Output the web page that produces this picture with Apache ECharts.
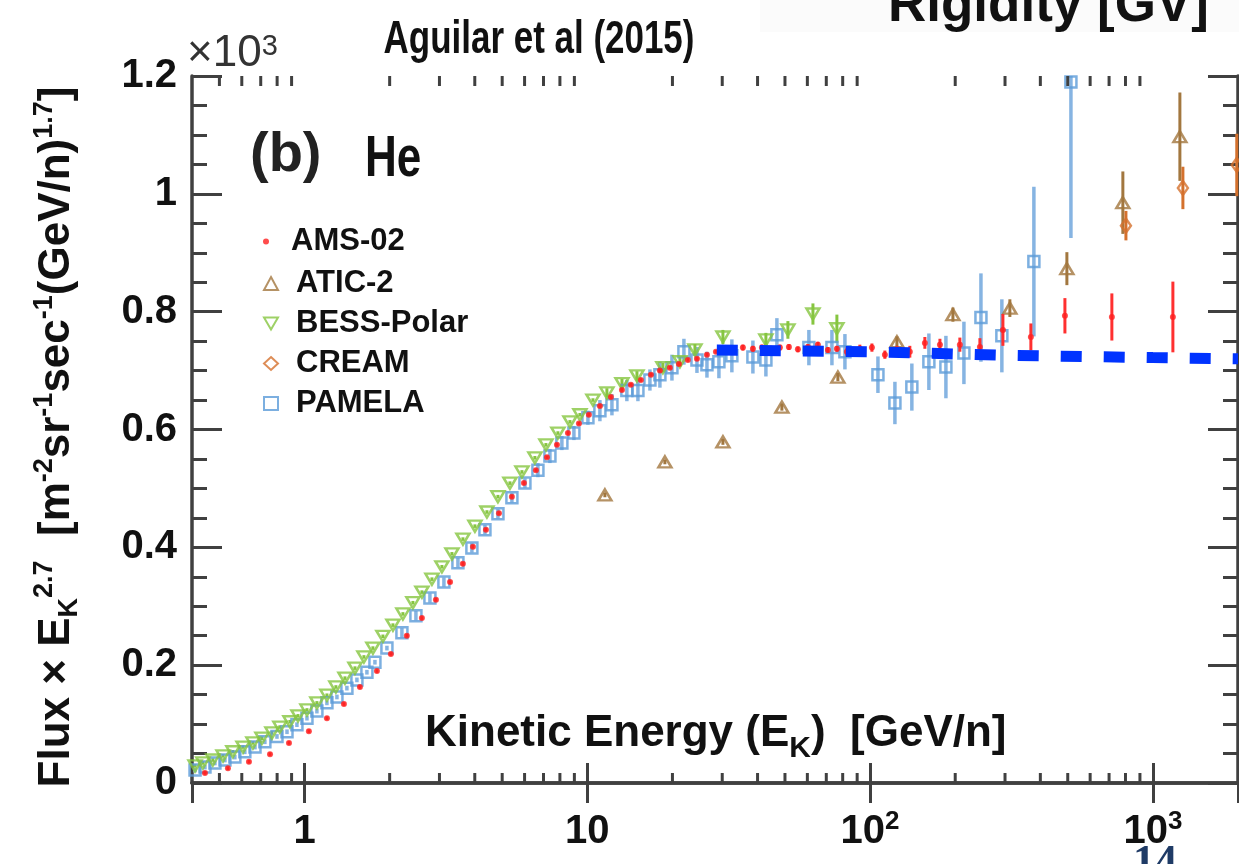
<!DOCTYPE html>
<html><head><meta charset="utf-8">
<script src="https://cdn.jsdelivr.net/npm/echarts@6/dist/echarts.min.js"></script>
<style>html,body{margin:0;padding:0;background:#fff}#c{width:1239px;height:864px}</style>
</head><body><div id="c"></div>
<script>
// ---------------- data ----------------
const xTickValues = [1, 10, 100, 1000];
const xTickText = ['1', '10', '10{sup|2}', '10{sup|3}'];
const xMinorTicks = [0.5,0.6,0.7,0.8,0.9, 2,3,4,5,6,7,8,9, 20,30,40,50,60,70,80,90, 200,300,400,500,600,700,800,900];

const amsE = [0.4445,0.536,0.636,0.755,0.881,1.036,1.20,1.378,1.57,1.803,2.02,2.30,2.60,2.915,3.27,3.63,3.94,4.38,4.87,5.41,5.97,6.58,7.20,7.81,8.54,9.34,10.13,11.08,12.12,13.26,14.26,15.47,16.79,18.06,19.59,21.09,22.68,24.42,26.49,28.50,30.66,32.99,35.50,38.51,41.44,44.59,47.98,51.63,55.55,60.26,65.38,70.93,76.31,82.79,92.0,101.5,112.8,124.4,138.2,156.2,176.6,207.7,244.5,294.9,370.3,488.6,716.1,1177];
const amsFlux = [0.017,0.025,0.036,0.049,0.068,0.088,0.110,0.134,0.163,0.190,0.219,0.250,0.280,0.311,0.341,0.372,0.401,0.430,0.458,0.486,0.509,0.531,0.553,0.574,0.594,0.610,0.625,0.640,0.655,0.667,0.676,0.684,0.693,0.700,0.705,0.711,0.718,0.720,0.727,0.732,0.733,0.735,0.739,0.737,0.739,0.737,0.739,0.740,0.736,0.740,0.744,0.735,0.737,0.732,0.737,0.739,0.727,0.735,0.732,0.747,0.744,0.744,0.740,0.769,0.757,0.793,0.791,0.791];
const amsErr = [0.003,0.003,0.003,0.003,0.003,0.003,0.003,0.003,0.003,0.003,0.003,0.003,0.003,0.003,0.003,0.003,0.003,0.003,0.003,0.003,0.003,0.003,0.003,0.003,0.003,0.003,0.003,0.003,0.003,0.003,0.003,0.003,0.003,0.003,0.003,0.003,0.003,0.003,0.003,0.003,0.005,0.005,0.005,0.005,0.005,0.005,0.005,0.005,0.005,0.005,0.005,0.005,0.005,0.007,0.007,0.007,0.007,0.007,0.010,0.010,0.010,0.012,0.015,0.027,0.023,0.030,0.040,0.060];

const bessE = [0.410,0.437,0.474,0.515,0.558,0.606,0.657,0.707,0.767,0.818,0.888,0.948,1.020,1.106,1.200,1.291,1.390,1.508,1.622,1.745,1.893,2.054,2.228,2.417,2.601,2.822,3.061,3.321,3.632,4.005,4.416,4.830,5.326,5.873,6.526,7.139,7.870,8.681,9.415,10.47,11.73,13.26,14.98,18.51,21.26,24.02,30.17,42.81,51.21,62.79,76.31];
const bessFlux = [0.029,0.034,0.039,0.046,0.053,0.061,0.068,0.076,0.085,0.095,0.104,0.114,0.124,0.136,0.149,0.163,0.178,0.195,0.214,0.229,0.249,0.268,0.287,0.306,0.324,0.346,0.367,0.389,0.414,0.436,0.460,0.486,0.509,0.528,0.552,0.574,0.594,0.613,0.625,0.650,0.662,0.678,0.691,0.705,0.715,0.735,0.757,0.752,0.769,0.796,0.771];
const bessErr = [0.003,0.003,0.003,0.003,0.003,0.003,0.003,0.003,0.003,0.003,0.003,0.003,0.003,0.003,0.003,0.003,0.003,0.003,0.003,0.003,0.003,0.003,0.003,0.003,0.003,0.003,0.003,0.003,0.003,0.003,0.003,0.003,0.003,0.003,0.003,0.003,0.003,0.003,0.003,0.003,0.008,0.008,0.008,0.008,0.008,0.010,0.012,0.012,0.015,0.018,0.024];

const pamelaE = [0.410,0.4445,0.482,0.523,0.567,0.615,0.668,0.724,0.799,0.867,0.940,1.020,1.106,1.200,1.302,1.412,1.532,1.662,1.774,1.956,2.210,2.477,2.776,3.111,3.487,3.907,4.345,4.830,5.412,6.017,6.689,7.376,8.130,8.967,10.05,11.08,12.22,13.80,15.10,16.65,18.06,19.92,21.96,24.42,26.49,29.20,32.45,38.51,42.81,46.82,60.75,73.29,81.47,106.6,122.4,140.5,161.4,185.4,214.7,246.6,292.4,379.5,513.1];
const pamelaFlux = [0.022,0.027,0.034,0.039,0.044,0.053,0.061,0.070,0.079,0.087,0.099,0.110,0.122,0.136,0.146,0.161,0.175,0.188,0.205,0.229,0.255,0.284,0.314,0.341,0.374,0.399,0.430,0.457,0.484,0.509,0.531,0.555,0.577,0.594,0.620,0.632,0.642,0.666,0.666,0.684,0.693,0.705,0.732,0.718,0.710,0.715,0.725,0.723,0.718,0.761,0.739,0.739,0.732,0.693,0.645,0.672,0.715,0.706,0.730,0.790,0.759,0.885,1.190];
const pamelaErr = [0.004,0.004,0.004,0.004,0.004,0.004,0.004,0.004,0.004,0.004,0.004,0.004,0.004,0.004,0.004,0.004,0.004,0.004,0.004,0.004,0.008,0.008,0.008,0.008,0.008,0.008,0.008,0.008,0.008,0.008,0.012,0.012,0.012,0.012,0.012,0.018,0.018,0.018,0.018,0.018,0.022,0.022,0.022,0.022,0.022,0.028,0.028,0.028,0.028,0.028,0.030,0.030,0.030,0.031,0.036,0.040,0.048,0.053,0.053,0.075,0.062,0.127,0.265];

const aticE = [11.54,18.81,30.17,48.76,76.93,124.4,196.3,312.1,496.5,783.2,1246];
const aticFlux = [0.489,0.545,0.579,0.638,0.689,0.749,0.795,0.806,0.873,0.985,1.097];
const aticErr = [0.004,0.004,0.005,0.006,0.007,0.009,0.012,0.015,0.028,0.053,0.075];

const creamE = [803,1277,1980];
const creamFlux = [0.946,1.010,1.049];
const creamErr = [0.025,0.036,0.053];

const modelE = [28.7,100,300,1000,2000];
const modelFlux = [0.735,0.732,0.726,0.722,0.720];

// ---------------- styling ----------------
const C = {ams:'#ff1f1f', atic:'#a2773f', bess:'#86c540', cream:'#d4712d', pamela:'#5b9bd8'};
const SANS = "'Liberation Sans', Arial, Helvetica, sans-serif";
const AX = '#404040';
const DOWN_TRI = 'path://M0,0L12,0L6,10.4Z';

function zip3(a, b, c) { return a.map((v, i) => [v, b[i], c[i]]); }
function zip2(a, b) { return a.map((v, i) => [v, b[i]]); }

function errRender(color, width) {
  return function (params, api) {
    const x = api.value(0), y = api.value(1), e = api.value(2);
    const lo = api.coord([x, y - e]);
    const hi = api.coord([x, y + e]);
    const cs = params.coordSys;
    const top = Math.max(hi[1], cs.y);
    const bot = Math.min(lo[1], cs.y + cs.height);
    return {type: 'line', shape: {x1: lo[0], y1: bot, x2: lo[0], y2: top},
            style: {stroke: color, lineWidth: width}};
  };
}
function minorTickRender(params, api) {
  const x = api.coord([api.value(0), api.value(1)])[0];
  const cs = params.coordSys;
  const st = {stroke: AX, lineWidth: 3};
  return {type: 'group', children: [
    {type: 'line', shape: {x1: x, y1: cs.y + cs.height, x2: x, y2: cs.y + cs.height - 10}, style: st},
    {type: 'line', shape: {x1: x, y1: cs.y, x2: x, y2: cs.y + 10}, style: st}
  ]};
}

const xAxisBase = {
  type: 'log', logBase: 10, min: 0.4, max: 2000,
  axisLine: {show: true, lineStyle: {color: AX, width: 3.5}},
  axisTick: {show: true, inside: true, length: 20, lineStyle: {color: AX, width: 3}},
  splitLine: {show: false}, minorTick: {show: false}
};
const yAxisBase = {
  type: 'value', min: 0, max: 1.2, interval: 0.2,
  axisLine: {show: true, lineStyle: {color: AX, width: 3.5}},
  axisTick: {show: true, inside: true, length: 30, lineStyle: {color: AX, width: 3}},
  minorTick: {show: true, splitNumber: 4, length: 15, lineStyle: {color: AX, width: 3}},
  splitLine: {show: false}
};
const legendText = {fontSize: 31, fontWeight: 'bold', color: '#111', fontFamily: SANS, lineHeight: 31, padding: [0, 0, 0, 13]};

const chart = echarts.init(document.getElementById('c'), null, {renderer: 'canvas'});
const option = {
  animation: false,
  backgroundColor: '#fff',
  grid: {left: 192, right: 1, top: 76, bottom: 81, containLabel: false},
  xAxis: [
    Object.assign({}, xAxisBase, {
      position: 'bottom',
      axisLabel: {
        show: true, showMinLabel: false, showMaxLabel: false, margin: 26,
        color: '#111', fontFamily: SANS, fontWeight: 'bold', fontSize: 40, lineHeight: 46,
        formatter: function (v) {
          const i = xTickValues.findIndex(t => Math.abs(t - v) / t < 1e-6);
          return i >= 0 ? xTickText[i] : '';
        },
        rich: {sup: {fontSize: 26, fontWeight: 'bold', fontFamily: SANS, color: '#111', verticalAlign: 'top', lineHeight: 24}}
      }
    }),
    Object.assign({}, xAxisBase, {position: 'top', axisLabel: {show: false}})
  ],
  yAxis: [
    Object.assign({}, yAxisBase, {
      position: 'left',
      axisLabel: {show: true, margin: 15, color: '#111', fontFamily: SANS, fontWeight: 'bold', fontSize: 40}
    }),
    Object.assign({}, yAxisBase, {position: 'right', axisLabel: {show: false}})
  ],
  legend: [
    {data: ['AMS-02'], orient: 'vertical', left: 263, top: 226, padding: 0,
     itemWidth: 14, itemHeight: 6, itemGap: 9, symbolKeepAspect: true, textStyle: legendText},
    {data: ['ATIC-2', {name: 'BESS-Polar', icon: DOWN_TRI}, 'CREAM', 'PAMELA'],
     orient: 'vertical', left: 263, top: 268, padding: 0,
     itemWidth: 14, itemHeight: 13, itemGap: 9, symbolKeepAspect: true, textStyle: legendText}
  ],
  series: [
    {type: 'custom', name: 'minor ticks', renderItem: minorTickRender, silent: true, z: 10,
     data: xMinorTicks.map(v => [v, 0.6])},

    {type: 'custom', name: 'PAMELA err', renderItem: errRender('#86b4e2', 3.5), silent: true, z: 2,
     data: zip3(pamelaE, pamelaFlux, pamelaErr)},
    {type: 'scatter', name: 'PAMELA', symbol: 'rect', symbolSize: 11, z: 3, symbolKeepAspect: true,
     itemStyle: {color: 'rgba(0,0,0,0)', borderColor: C.pamela, borderWidth: 2.5},
     data: zip2(pamelaE, pamelaFlux)},

    {type: 'custom', name: 'BESS err', renderItem: errRender(C.bess, 3), silent: true, z: 2,
     data: zip3(bessE, bessFlux, bessErr)},
    {type: 'scatter', name: 'BESS-Polar', symbol: 'triangle', symbolRotate: 180, symbolSize: [13, 11], z: 3,
     symbolKeepAspect: true,
     itemStyle: {color: 'rgba(0,0,0,0)', borderColor: C.bess, borderWidth: 2.5},
     data: zip2(bessE, bessFlux)},

    {type: 'custom', name: 'ATIC err', renderItem: errRender(C.atic, 3), silent: true, z: 2,
     data: zip3(aticE, aticFlux, aticErr)},
    {type: 'scatter', name: 'ATIC-2', symbol: 'triangle', symbolSize: [13, 11], z: 3, symbolKeepAspect: true,
     itemStyle: {color: 'rgba(0,0,0,0)', borderColor: C.atic, borderWidth: 2.5},
     data: zip2(aticE, aticFlux)},

    {type: 'custom', name: 'CREAM err', renderItem: errRender(C.cream, 3), silent: true, z: 2,
     data: zip3(creamE, creamFlux, creamErr)},
    {type: 'scatter', name: 'CREAM', symbol: 'diamond', symbolSize: [10, 14], z: 3, symbolKeepAspect: true,
     itemStyle: {color: 'rgba(0,0,0,0)', borderColor: C.cream, borderWidth: 2.5},
     data: zip2(creamE, creamFlux)},

    {type: 'custom', name: 'AMS err', renderItem: errRender('#ff3030', 3), silent: true, z: 4,
     data: zip3(amsE, amsFlux, amsErr)},
    {type: 'scatter', name: 'AMS-02', symbol: 'circle', symbolSize: 6, z: 4,
     itemStyle: {color: C.ams},
     data: zip2(amsE, amsFlux)},

    {type: 'line', name: 'model', showSymbol: false, symbol: 'none', z: 6, silent: true,
     lineStyle: {color: '#0033ff', width: 11, type: [21, 22], cap: 'butt'},
     data: zip2(modelE, modelFlux)}
  ],
  graphic: [
    {type: 'rect', left: 760, top: 0, shape: {width: 479, height: 32}, style: {fill: '#fbfbfb'}, z: -1, silent: true},
    {type: 'text', x: 888, y: 6, style: {text: 'Rigidity [GV]', font: "bold 53px " + SANS, fill: '#111',
      align: 'left', verticalAlign: 'middle'}},
    {type: 'text', x: 539, y: 40, scaleX: 0.76, style: {text: 'Aguilar et al (2015)', font: "bold 46px " + SANS, fill: '#111',
      align: 'center', verticalAlign: 'middle'}},
    {type: 'text', x: 187, y: 54, style: {text: '×10{sup|3}', font: "44px " + SANS, fill: '#333',
      align: 'left', verticalAlign: 'middle',
      rich: {sup: {fontSize: 29, fontFamily: SANS, fill: '#333', verticalAlign: 'top', lineHeight: 22}}}},
    {type: 'text', x: 250, y: 156, style: {text: '(b)', font: "bold 56px " + SANS, fill: '#222',
      align: 'left', verticalAlign: 'middle'}},
    {type: 'text', x: 365, y: 160, scaleX: 0.76, style: {text: 'He', font: "bold 58px " + SANS, fill: '#111',
      align: 'left', verticalAlign: 'middle'}},
    {type: 'text', x: 425, y: 734, style: {text: 'Kinetic Energy (E{sub|K})  [GeV/n]', font: "bold 44px " + SANS,
      fill: '#111', align: 'left', verticalAlign: 'middle', lineHeight: 60,
      rich: {sub: {fontSize: 30, fontWeight: 'bold', fontFamily: SANS, fill: '#111', verticalAlign: 'bottom', lineHeight: 14}}}},
    {type: 'text', x: 57, y: 437, rotation: Math.PI / 2,
     style: {text: 'Flux × E{sub|K}{sup|2.7}  [m{sup|-2}sr{sup|-1}sec{sup|-1}(GeV/n){sup|1.7}]',
      font: "bold 44px " + SANS, fill: '#111', align: 'center', verticalAlign: 'middle', lineHeight: 52,
      rich: {sup: {fontSize: 27, fontWeight: 'bold', fontFamily: SANS, fill: '#111', verticalAlign: 'top', lineHeight: 24},
             sub: {fontSize: 27, fontWeight: 'bold', fontFamily: SANS, fill: '#111', verticalAlign: 'bottom', lineHeight: 20}}}},
    {type: 'text', x: 1133, y: 842, style: {text: '14', font: "bold 44px 'Liberation Serif', serif", fill: '#1f3b66',
      align: 'left', verticalAlign: 'top'}}
  ]
};
chart.setOption(option);
</script>
</body></html>
